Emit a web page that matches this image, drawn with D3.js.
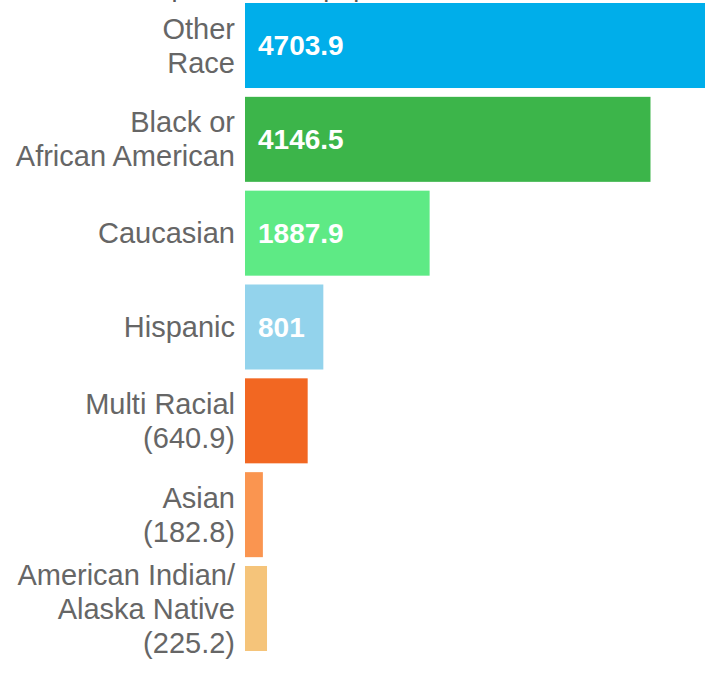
<!DOCTYPE html>
<html>
<head>
<meta charset="utf-8">
<script src="https://cdn.jsdelivr.net/npm/d3@7"></script>
<style>
  body { margin: 0; background: #fff; }
  #vis { width: 710px; height: 674px; }
</style>
</head>
<body>
<div id="vis"></div>
<script>
const categories = ['Other Race', 'Black or African American', 'Caucasian', 'Hispanic', 'Multi Racial', 'Asian', 'American Indian/Alaska Native'];
const values = [4703.9, 4146.5, 1887.9, 801, 640.9, 182.8, 225.2];
// label lines as shown; small bars carry their value in the label
const labelLines = [
  ['Other', 'Race'],
  ['Black or', 'African American'],
  ['Caucasian'],
  ['Hispanic'],
  ['Multi Racial', '(640.9)'],
  ['Asian', '(182.8)'],
  ['American Indian/', 'Alaska Native', '(225.2)']
];
const showInside = [true, true, true, true, false, false, false];
const colors = ['#00aeea', '#3cb54a', '#5eea85', '#93d3ec', '#f26722', '#fa9550', '#f5c47a'];

const width = 710;
const height = 674;

const svg = d3.select('#vis')
              .append('svg')
                .attr('width', width)
                .attr('height', height)
                .style('font-family', 'Arial, "Liberation Sans", sans-serif');

const x = d3.scaleLinear()
            .domain([0, 4703.9])
            .range([245, 705]);

const y = d3.scaleBand()
            .domain(categories)
            .range([3, 651])
            .paddingInner(0.094)
            .paddingOuter(0);

// title, mostly cut off at the top as in the original
svg.append('text')
    .attr('x', 107)
    .attr('y', -4)
    .attr('font-size', 27)
    .attr('fill', '#595959')
    .text('Rate per 100,000 population');

svg.selectAll('.bar')
    .data(categories)
  .enter().append('rect')
    .attr('class', 'bar')
    .attr('x', x(0))
    .attr('y', (d) => y(d))
    .attr('width', (d, i) => x(values[i]) - x(0))
    .attr('height', y.bandwidth())
    .attr('fill', (d, i) => colors[i]);

svg.selectAll('.value')
    .data(categories.filter((d, i) => showInside[i]))
  .enter().append('text')
    .attr('class', 'value')
    .attr('x', x(0) + 13)
    .attr('y', (d) => y(d) + y.bandwidth() / 2)
    .attr('dy', '0.35em')
    .attr('font-size', 28)
    .attr('font-weight', 'bold')
    .attr('fill', '#fff')
    .text((d) => values[categories.indexOf(d)]);

const lineHeight = 34;

categories.forEach(function (c, i) {
  const lines = labelLines[i];
  const mid = y(c) + y.bandwidth() / 2;
  const t = svg.append('text')
      .attr('class', 'label')
      .attr('text-anchor', 'end')
      .attr('font-size', 29)
      .attr('fill', '#666');
  lines.forEach(function (l, j) {
    t.append('tspan')
      .attr('x', 235)
      .attr('y', mid + (j - (lines.length - 1) / 2) * lineHeight)
      .attr('dy', '0.35em')
      .text(l);
  });
});
</script>
</body>
</html>
